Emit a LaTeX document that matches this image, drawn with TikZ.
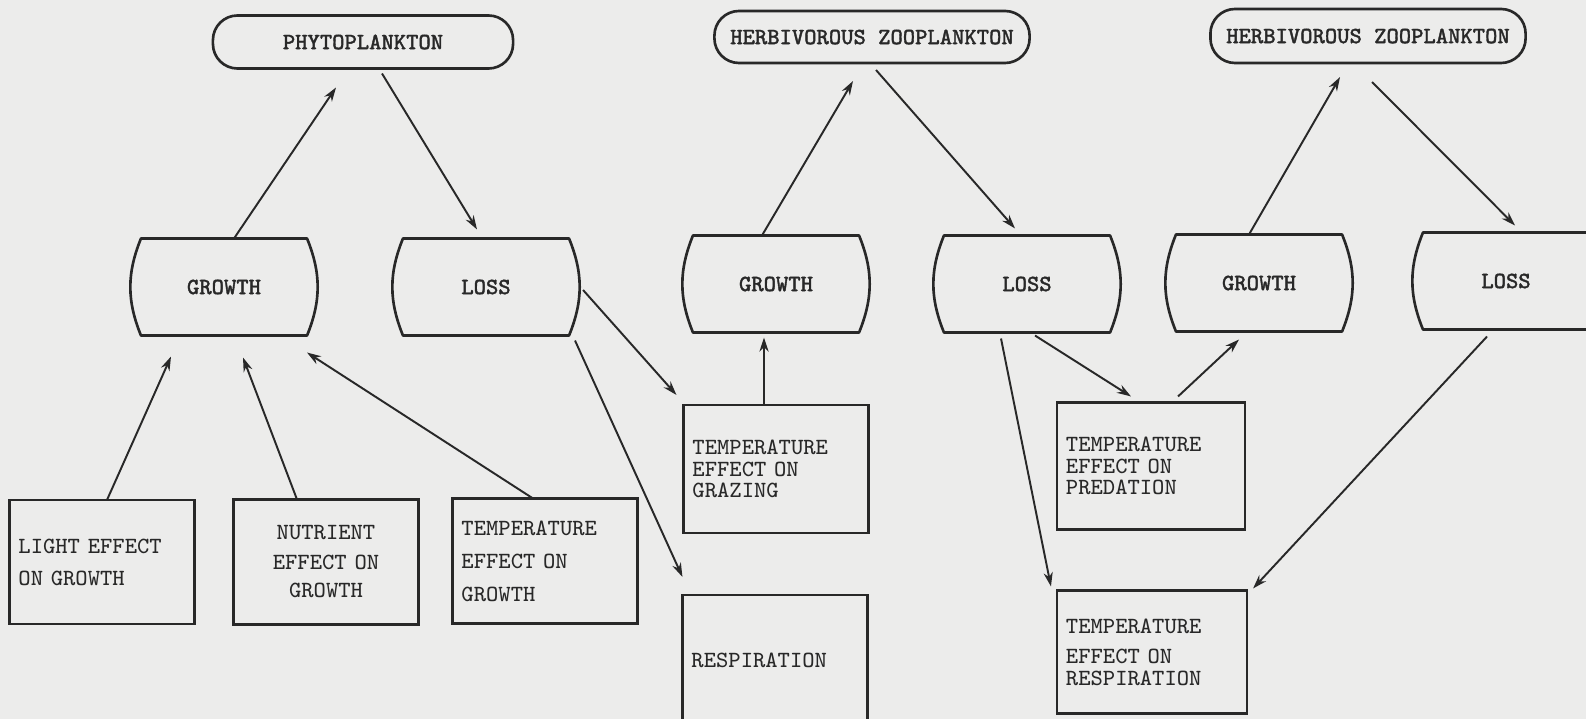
\documentclass[tikz,border=0pt]{standalone}
\usepackage{fontspec}
\setmonofont[AutoFakeBold=1.6]{Latin Modern Mono}
\usepackage{tikz}
\usetikzlibrary{arrows.meta,calc}
\definecolor{paper}{RGB}{236,236,235}
\definecolor{ink}{RGB}{40,40,40}

\begin{document}
\begin{tikzpicture}[x=0.01cm,y=0.01cm,
    typed/.style={font=\fontsize{6.6}{6.1}\selectfont\ttfamily,text=ink},
    bold/.style={font=\fontsize{6.6}{6.1}\selectfont\ttfamily\bfseries,text=ink},
    stock/.style={bold,draw=ink,line width=0.75pt,rounded corners=7pt,
        minimum width=3.15cm,minimum height=0.52cm,outer sep=0pt},
    rate/.style={bold,minimum width=1.66cm,minimum height=0.97cm,outer sep=0pt},
    effect/.style={typed,draw=ink,line width=0.7pt,minimum height=1.25cm,
        text width=1.67cm,inner xsep=0.09cm,align=left,outer sep=0pt},
    flow/.style={draw=ink,line width=0.55pt,-{Stealth[length=4pt,width=2.6pt]}},
    rim/.style={draw=ink,line width=0.75pt,line join=round}]
\useasboundingbox (0,0) rectangle (1586,-719);
\clip (0,0) rectangle (1586,-719);
\fill[paper] (0,0) rectangle (1586,-719);

% State variables
\node[stock,minimum width=3.0cm,minimum height=0.53cm] (phyto) at (363,-42) {PHYTOPLANKTON};
\node[stock] (herbA) at (872,-37) {HERBIVOROUS ZOOPLANKTON};
\node[stock,minimum height=0.54cm] (herbB) at (1368,-36) {HERBIVOROUS ZOOPLANKTON};

% Rates
\node[rate] (pgrow) at (224,-287) {GROWTH};
\node[rate] (ploss) at (486,-287) {LOSS};
\node[rate] (hgrowA) at (776,-284) {GROWTH};
\node[rate] (hlossA) at (1027,-284) {LOSS};
\node[rate] (hgrowB) at (1259,-283) {GROWTH};
\node[rate] (hlossB) at (1506,-281) {LOSS};
\foreach \n in {pgrow,ploss,hgrowA,hlossA,hgrowB,hlossB}
    \draw[rim] (\n.north west) -- (\n.north east) to[bend left=22] (\n.south east)
        -- (\n.south west) to[bend left=22] (\n.north west) -- cycle;

% Effects on phytoplankton growth
\node[effect,minimum height=1.24cm] (light) at (102,-562) {LIGHT EFFECT\\[3pt]ON GROWTH};
\node[effect,align=center] (nutr) at (326,-562) {NUTRIENT\\[2.3pt]EFFECT ON\\[2pt]GROWTH};
\node[effect] (tempg) at (545,-561) {TEMPERATURE\\[3.3pt]EFFECT ON\\[3.3pt]GROWTH};

% Effects on losses
\node[effect,minimum height=1.28cm] (graze) at (776,-469) {TEMPERATURE\\EFFECT ON\\GRAZING};
\node[effect,minimum height=1.30cm] (resp) at (775,-660) {RESPIRATION};
\node[effect,text width=1.70cm,minimum height=1.27cm] (pred) at (1151,-466) {TEMPERATURE\\EFFECT ON\\PREDATION};
\node[effect,text width=1.72cm,minimum height=1.23cm] (tresp) at (1152,-652) {TEMPERATURE\\[2.5pt]EFFECT ON\\RESPIRATION};

% Growth and loss of each stock
\draw[flow] ($(pgrow.north)+(10,0)$) -- ($(phyto.south)+(-27,-19)$);
\draw[flow] ($(phyto.south)+(19,-5)$) -- ($(ploss.north)+(-9,9)$);
\draw[flow] ($(hgrowA.north)+(-14,0)$) -- ($(herbA.south)+(-19,-18)$);
\draw[flow] ($(herbA.south)+(4,-7)$) -- ($(hlossA.north)+(-12,7)$);
\draw[flow] ($(hgrowB.north)+(-10,0)$) -- ($(herbB.south)+(-28,-14)$);
\draw[flow] ($(herbB.south)+(4,-19)$) -- ($(hlossB.north)+(9,7)$);

% Effects feeding the rates
\draw[flow] ($(light.north)+(5,0)$) -- ($(pgrow.south)+(-53,-21)$);
\draw[flow] ($(nutr.north)+(-29,0)$) -- ($(pgrow.south)+(19,-22)$);
\draw[flow] ($(tempg.north)+(-12,0)$) -- ($(pgrow.south)+(83,-17)$);
\draw[flow] ($(ploss.east)+(14,-3)$) -- ($(graze.north west)+(-7,10)$);
\draw[flow] ($(ploss.south)+(89,-5)$) -- ($(resp.north west)+(0,18)$);
\draw[flow] ($(graze.north)+(-12,0)$) -- ($(hgrowA.south)+(-12,-5)$);
\draw[flow] ($(hlossA.south)+(8,-3)$) -- ($(pred.north)+(-20,6)$);
\draw[flow] ($(pred.north)+(27,6)$) -- ($(hgrowB.south)+(-20,-8)$);
\draw[flow] ($(hlossA.south)+(-26,-6)$) -- ($(tresp.north west)+(-6,4)$);
\draw[flow] ($(hlossB.south)+(-19,-7)$) -- ($(tresp.north east)+(6,2)$);
\end{tikzpicture}
\end{document}
